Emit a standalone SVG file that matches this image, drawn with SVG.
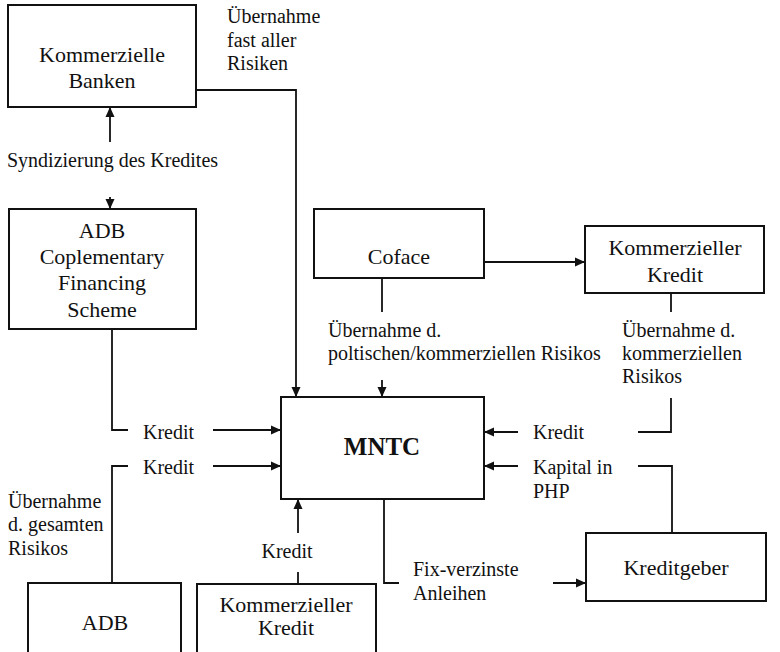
<svg xmlns="http://www.w3.org/2000/svg" width="780" height="652" viewBox="0 0 780 652">
<defs>
<marker id="ah" viewBox="0 0 10 10" refX="10" refY="5" markerWidth="10" markerHeight="10" markerUnits="userSpaceOnUse" orient="auto">
<path d="M0,0.5 L10,5 L0,9.5 Z" fill="#111"/>
</marker>
<style>
rect.box{fill:#fff;stroke:#111;stroke-width:2}
.conn path{fill:none;stroke:#111;stroke-width:1.8}
.arr{marker-end:url(#ah)}
text{font-family:"Liberation Serif","Times New Roman",serif;fill:#111}
.lbl{font-size:20px}
.bt{font-size:22px;text-anchor:middle}
.big{font-size:25px;font-weight:bold;text-anchor:middle}
</style>
</defs>
<rect width="780" height="652" fill="#fff"/>

<g id="connectors" class="conn">
<path class="arr" d="M196,90 H296 V397"/>
<path class="arr" d="M110,142 V107"/>
<path class="arr" d="M110,197 V209"/>
<path d="M112,329 V430 H128"/>
<path class="arr" d="M213,430 H281"/>
<path d="M112,583 V466 H128"/>
<path class="arr" d="M213,466 H281"/>
<path d="M298,584 V572"/>
<path class="arr" d="M298,533 V499"/>
<path d="M384,499 V583 H399"/>
<path class="arr" d="M553,583 H586"/>
<path d="M672,533 V466 H638"/>
<path class="arr" d="M518,466 H484"/>
<path d="M671,293 V312"/>
<path d="M671,398 V432 H638"/>
<path class="arr" d="M518,432 H484"/>
<path class="arr" d="M484,262 H585"/>
<path d="M382,278 V312"/>
<path class="arr" d="M382,380 V397"/>
</g>

<g id="labels">
<text class="lbl" x="227" y="23">Übernahme</text>
<text class="lbl" x="227" y="47">fast aller</text>
<text class="lbl" x="227" y="70">Risiken</text>
<text class="lbl" x="7" y="167">Syndizierung des Kredites</text>
<text class="lbl" x="143" y="439">Kredit</text>
<text class="lbl" x="143" y="474">Kredit</text>
<text class="lbl" x="8" y="508">Übernahme</text>
<text class="lbl" x="8" y="531">d. gesamten</text>
<text class="lbl" x="8" y="555">Risikos</text>
<text class="lbl" x="287" y="558" text-anchor="middle">Kredit</text>
<text class="lbl" x="413" y="576">Fix-verzinste</text>
<text class="lbl" x="413" y="600">Anleihen</text>
<text class="lbl" x="533" y="439">Kredit</text>
<text class="lbl" x="533" y="474">Kapital in</text>
<text class="lbl" x="533" y="498">PHP</text>
<text class="lbl" x="328" y="337">Übernahme d.</text>
<text class="lbl" x="328" y="360">poltischen/kommerziellen Risikos</text>
<text class="lbl" x="622" y="337">Übernahme d.</text>
<text class="lbl" x="622" y="360">kommerziellen</text>
<text class="lbl" x="622" y="383">Risikos</text>
</g>

<g id="node-banken">
<rect class="box" x="8" y="5" width="188" height="102"/>
<text class="bt" x="102" y="62">Kommerzielle</text>
<text class="bt" x="102" y="88">Banken</text>
</g>

<g id="node-adbcfs">
<rect class="box" x="9" y="209" width="187" height="120"/>
<text class="bt" x="102" y="238">ADB</text>
<text class="bt" x="102" y="264">Coplementary</text>
<text class="bt" x="102" y="290">Financing</text>
<text class="bt" x="102" y="317">Scheme</text>
</g>

<g id="node-coface">
<rect class="box" x="314" y="209" width="170" height="69"/>
<text class="bt" x="399" y="264">Coface</text>
</g>

<g id="node-kredit-top">
<rect class="box" x="585" y="226" width="179" height="67"/>
<text class="bt" x="675" y="255">Kommerzieller</text>
<text class="bt" x="675" y="282">Kredit</text>
</g>

<g id="node-mntc">
<rect class="box" x="281" y="397" width="203" height="102"/>
<text class="big" x="382" y="455">MNTC</text>
</g>

<g id="node-adb">
<rect class="box" x="28" y="583" width="153" height="80"/>
<text class="bt" x="105" y="630">ADB</text>
</g>

<g id="node-kredit-bottom">
<rect class="box" x="197" y="584" width="179" height="80"/>
<text class="bt" x="286" y="612">Kommerzieller</text>
<text class="bt" x="286" y="635">Kredit</text>
</g>

<g id="node-kreditgeber">
<rect class="box" x="586" y="533" width="180" height="68"/>
<text class="bt" x="676" y="575">Kreditgeber</text>
</g>
</svg>
